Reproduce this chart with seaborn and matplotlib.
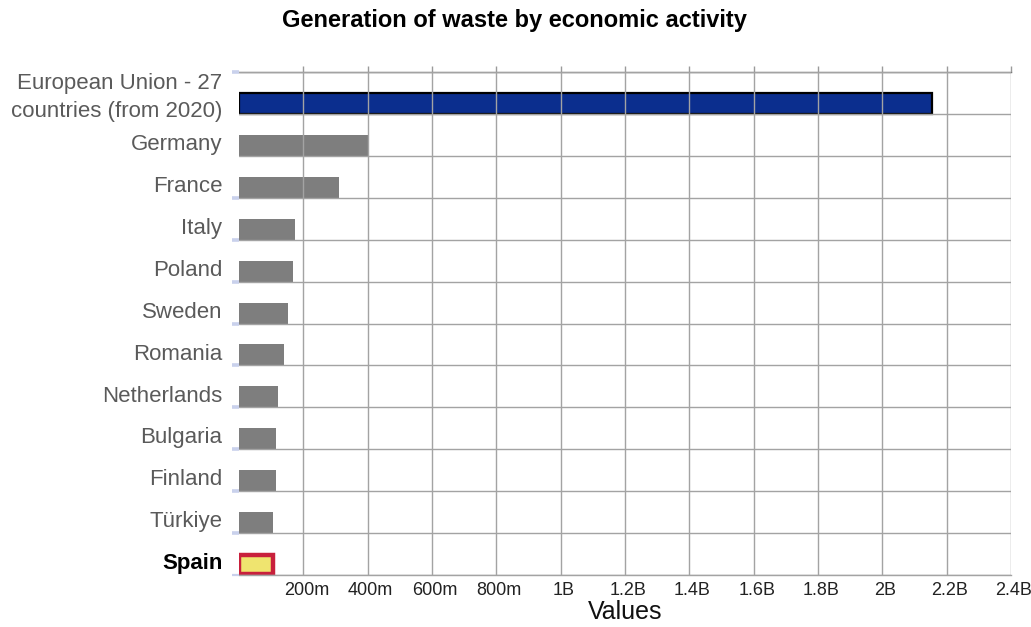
import matplotlib
matplotlib.use("Agg")
import matplotlib.pyplot as plt
import matplotlib.transforms as mtransforms
import numpy as np
import pandas as pd
import seaborn as sns

# Waste generated by all economic activities (tonnes)
countries = [
    "European Union - 27\ncountries (from 2020)",
    "Germany", "France", "Italy", "Poland", "Sweden", "Romania",
    "Netherlands", "Bulgaria", "Finland", "Türkiye", "Spain",
]
values = [2153e6, 402e6, 311e6, 174e6, 168e6, 152e6, 140e6,
          122e6, 115e6, 114e6, 106e6, 106e6]
x_tick_values = [200e6, 400e6, 600e6, 800e6, 1.0e9, 1.2e9,
                 1.4e9, 1.6e9, 1.8e9, 2.0e9, 2.2e9, 2.4e9]
x_tick_labels = ["200m", "400m", "600m", "800m", "1B", "1.2B",
                 "1.4B", "1.6B", "1.8B", "2B", "2.2B", "2.4B"]

sns.set_theme(style="white")
plt.rcParams["font.family"] = ["Liberation Sans", "DejaVu Sans"]

W, H = 1031, 627
fig = plt.figure(figsize=(W / 100, H / 100), dpi=100)
ax = fig.add_axes([239 / W, 1 - 575 / H, (1011 - 239) / W, (575 - 72) / H])

df = pd.DataFrame({"country": countries, "value": values})
n = len(countries)
palette = ["#0b2e8e"] + ["#7e7e7e"] * (n - 2) + ["#efe46f"]

bar_h = 0.5
sns.barplot(data=df, x="value", y="country", hue="country", palette=palette,
            legend=False, orient="h", width=bar_h, saturation=1, ax=ax)

# sit each bar on the lower boundary of its row
for p in ax.patches:
    p.set_y(p.get_y() + (0.5 - bar_h / 2))
    p.set_linewidth(0)
ax.patches[0].set_edgecolor("black")
ax.patches[0].set_linewidth(1.6)
ax.patches[-1].set_edgecolor("#c8203c")
ax.patches[-1].set_linewidth(3.2)
ax.patches[-1].set_height(bar_h * 0.9)
ax.patches[-1].set_y(ax.patches[-1].get_y() + bar_h * 0.05)

ax.set_xlim(0, 2.4e9)
ax.set_ylim(n - 0.5, -0.5)

# category labels
ax.set_yticks(np.arange(n) + 0.17, labels=countries)
ax.tick_params(axis="y", which="major", length=0, pad=12, labelsize=16,
               labelcolor="#5a5a5a")
ylabels = ax.get_yticklabels()
ylabels[-1].set_fontweight("bold")
ylabels[-1].set_color("black")
ylabels[0].set_linespacing(1.4)
ylabels[0].set_transform(ylabels[0].get_transform() +
                         mtransforms.ScaledTranslation(0, 6 / 72, fig.dpi_scale_trans))

# row boundaries
bounds = np.arange(n + 1) - 0.5
ax.set_yticks(bounds, minor=True)
ax.tick_params(axis="y", which="minor", length=5, width=2.6, color="#c9d1ec",
               direction="out", left=True)
minor_ticks = ax.yaxis.get_minor_ticks()
for k in (1, 2):
    minor_ticks[k].tick1line.set_visible(False)
minor_ticks[-1].tick1line.set_color("black")
minor_ticks[-1].tick1line.set_markeredgewidth(1.6)

ax.set_xticks(x_tick_values, labels=x_tick_labels)
ax.tick_params(axis="x", which="major", bottom=False, top=True, length=4,
               width=1, color="#9a9a9a", direction="out", pad=1,
               labelsize=13, labelcolor="#222222", labeltop=False)
for lbl in ax.get_xticklabels():
    lbl.set_transform(lbl.get_transform() +
                      mtransforms.ScaledTranslation(3 / 100, 0, fig.dpi_scale_trans))

ax.grid(True, axis="x", which="major", color="#a3a3a3", linewidth=1)
ax.grid(True, axis="y", which="minor", color="#a3a3a3", linewidth=1)
ax.grid(False, axis="y", which="major")
ax.set_axisbelow(False)

ax.spines["left"].set_visible(False)
ax.spines["right"].set_visible(False)
ax.spines["bottom"].set_color("#a3a3a3")
ax.spines["bottom"].set_linewidth(1)
ax.spines["top"].set_color("#5c5c5c")
ax.spines["top"].set_linewidth(1)

ax.set_ylabel("")
ax.set_xlabel("Values", fontsize=18, color="#111111", labelpad=1)

fig.text(0.4985, 1 - 21 / H, "Generation of waste by economic activity",
         ha="center", va="center", fontsize=17, fontweight="bold", color="black")

fig.savefig("out.png", dpi=100)
